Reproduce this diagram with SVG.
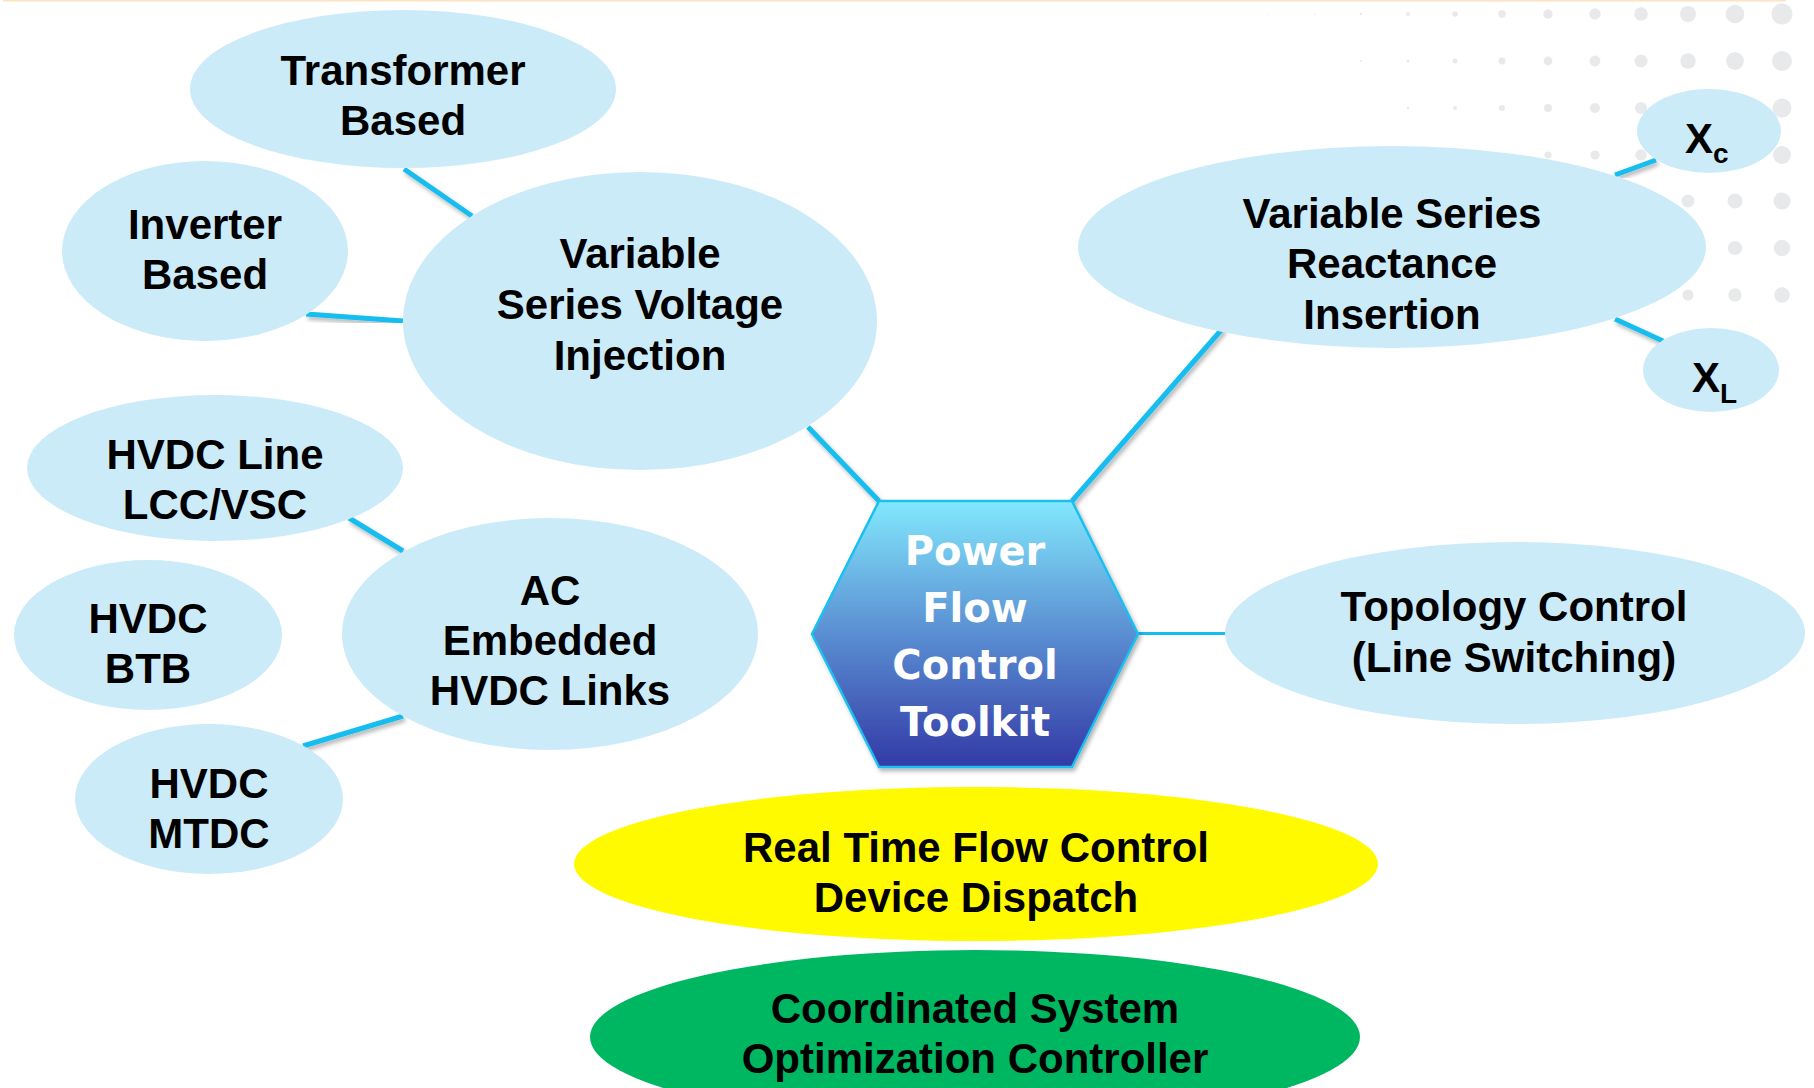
<svg xmlns="http://www.w3.org/2000/svg" width="1814" height="1088" viewBox="0 0 1814 1088">
<defs>
<linearGradient id="hexGrad" x1="0" y1="0" x2="0" y2="1">
<stop offset="0" stop-color="#82E8FD"/>
<stop offset="0.5" stop-color="#5A8ED2"/>
<stop offset="1" stop-color="#3339A6"/>
</linearGradient>
<filter id="shadow" x="-20%" y="-20%" width="140%" height="140%">
<feDropShadow dx="2" dy="3" stdDeviation="2" flood-color="#000" flood-opacity="0.3"/>
</filter>
<style>
.bubble{fill:#CCEBF9}
.lbl{font-family:"Liberation Sans",Arial,sans-serif;font-weight:bold;font-size:42px;fill:#000;text-anchor:middle}
.sub{font-size:28px}
.hexlbl{font-family:"DejaVu Sans","Liberation Sans",sans-serif;font-weight:bold;font-size:40px;fill:#fff;text-anchor:middle}
.conn line{stroke:#16BDEE;stroke-width:5;filter:url(#shadow)}
.dot{fill:#E8E9EA}
</style>
</defs>
<rect x="0" y="0" width="1814" height="1088" fill="#fff"/>
<line x1="3" y1="0.5" x2="1786" y2="0.5" stroke="#FDE3BF" stroke-width="2"/>
<g id="dots" class="dot">
<circle cx="1268" cy="14" r="0.6"/><circle cx="1315" cy="14" r="0.8"/><circle cx="1361" cy="14" r="1.2"/><circle cx="1408" cy="14" r="1.9"/><circle cx="1455" cy="14" r="2.8"/><circle cx="1502" cy="14" r="3.7"/><circle cx="1548" cy="14" r="4.7"/><circle cx="1595" cy="14" r="5.7"/><circle cx="1641" cy="14" r="6.8"/><circle cx="1688" cy="14" r="8"/><circle cx="1735" cy="14" r="9.3"/><circle cx="1782" cy="14" r="10.5"/>
<circle cx="1361" cy="61" r="0.9"/><circle cx="1408" cy="61" r="1.6"/><circle cx="1455" cy="61" r="2.5"/><circle cx="1502" cy="61" r="3.4"/><circle cx="1548" cy="61" r="4.4"/><circle cx="1595" cy="61" r="5.4"/><circle cx="1641" cy="61" r="6.5"/><circle cx="1688" cy="61" r="7.7"/><circle cx="1735" cy="61" r="8.9"/><circle cx="1782" cy="61" r="10"/>
<circle cx="1408" cy="108" r="1.2"/><circle cx="1455" cy="108" r="2.1"/><circle cx="1502" cy="108" r="3"/><circle cx="1548" cy="108" r="4"/><circle cx="1595" cy="108" r="5"/><circle cx="1641" cy="108" r="6.1"/><circle cx="1688" cy="108" r="7.3"/><circle cx="1735" cy="108" r="8.4"/><circle cx="1782" cy="108" r="9.5"/>
<circle cx="1548" cy="155" r="3.6"/><circle cx="1595" cy="155" r="4.6"/><circle cx="1641" cy="155" r="5.7"/><circle cx="1688" cy="155" r="6.8"/><circle cx="1735" cy="155" r="7.9"/><circle cx="1782" cy="155" r="9"/>
<circle cx="1688" cy="201" r="6.4"/><circle cx="1735" cy="201" r="7.5"/><circle cx="1782" cy="201" r="8.6"/>
<circle cx="1735" cy="248" r="7.1"/><circle cx="1782" cy="248" r="8.2"/>
<circle cx="1688" cy="295" r="5.6"/><circle cx="1735" cy="295" r="6.7"/><circle cx="1782" cy="295" r="7.8"/>
</g>
<g id="connectors" class="conn">
<line x1="404" y1="169" x2="472" y2="216"/>
<line x1="306" y1="314" x2="403" y2="321"/>
<line x1="808" y1="427" x2="879" y2="501"/>
<line x1="349" y1="518" x2="403" y2="551"/>
<line x1="281" y1="634" x2="342" y2="634"/>
<line x1="303" y1="746" x2="403" y2="716"/>
<line x1="757" y1="634" x2="812" y2="634"/>
<line x1="1223" y1="328" x2="1072" y2="501"/>
<line x1="1615" y1="175" x2="1656" y2="160"/>
<line x1="1615" y1="319" x2="1663" y2="341"/>
<line x1="1138" y1="634" x2="1225" y2="633"/>
<line x1="977" y1="768" x2="977" y2="789"/>
<line x1="975" y1="939" x2="975" y2="952"/>
</g>
<g id="transformer-based">
<ellipse class="bubble" cx="403" cy="89" rx="213" ry="79"/>
<text class="lbl" x="403" y="85">Transformer</text>
<text class="lbl" x="403" y="135">Based</text>
</g>
<g id="inverter-based">
<ellipse class="bubble" cx="205" cy="251" rx="143" ry="90"/>
<text class="lbl" x="205" y="239">Inverter</text>
<text class="lbl" x="205" y="289">Based</text>
</g>
<g id="vsvi">
<ellipse class="bubble" cx="640" cy="321" rx="237" ry="149"/>
<text class="lbl" x="640" y="268">Variable</text>
<text class="lbl" x="640" y="319">Series Voltage</text>
<text class="lbl" x="640" y="370">Injection</text>
</g>
<g id="hvdc-line">
<ellipse class="bubble" cx="215" cy="468" rx="188" ry="73"/>
<text class="lbl" x="215" y="469">HVDC Line</text>
<text class="lbl" x="215" y="519">LCC/VSC</text>
</g>
<g id="hvdc-btb">
<ellipse class="bubble" cx="148" cy="635" rx="134" ry="75"/>
<text class="lbl" x="148" y="633">HVDC</text>
<text class="lbl" x="148" y="683">BTB</text>
</g>
<g id="ac-embedded">
<ellipse class="bubble" cx="550" cy="634" rx="208" ry="116"/>
<text class="lbl" x="550" y="605">AC</text>
<text class="lbl" x="550" y="655">Embedded</text>
<text class="lbl" x="550" y="705">HVDC Links</text>
</g>
<g id="hvdc-mtdc">
<ellipse class="bubble" cx="209" cy="799" rx="134" ry="75"/>
<text class="lbl" x="209" y="798">HVDC</text>
<text class="lbl" x="209" y="848">MTDC</text>
</g>
<g id="vsri">
<ellipse class="bubble" cx="1392" cy="247" rx="314" ry="101"/>
<text class="lbl" x="1392" y="228">Variable Series</text>
<text class="lbl" x="1392" y="278">Reactance</text>
<text class="lbl" x="1392" y="329">Insertion</text>
</g>
<g id="xc">
<ellipse class="bubble" cx="1709" cy="131" rx="72" ry="42"/>
<text class="lbl" x="1685" y="153" style="text-anchor:start">X<tspan class="sub" dy="10">c</tspan></text>
</g>
<g id="xl">
<ellipse class="bubble" cx="1711" cy="370" rx="68" ry="42"/>
<text class="lbl" x="1692" y="392" style="text-anchor:start">X<tspan class="sub" dy="11">L</tspan></text>
</g>
<g id="topology">
<ellipse class="bubble" cx="1515" cy="633" rx="290" ry="91"/>
<text class="lbl" x="1514" y="621">Topology Control</text>
<text class="lbl" x="1514" y="672">(Line Switching)</text>
</g>
<g id="toolkit">
<polygon points="879,501 1072,501 1138,634 1072,767 879,767 812,634" fill="url(#hexGrad)" stroke="#1ABFEF" stroke-width="2.5" filter="url(#shadow)"/>
<text class="hexlbl" x="975" y="565">Power</text>
<text class="hexlbl" x="975" y="622">Flow</text>
<text class="hexlbl" x="975" y="679">Control</text>
<text class="hexlbl" x="975" y="736">Toolkit</text>
</g>
<g id="dispatch">
<ellipse cx="976" cy="864" rx="402" ry="77" fill="#FFFA00"/>
<text class="lbl" x="976" y="862">Real Time Flow Control</text>
<text class="lbl" x="976" y="912">Device Dispatch</text>
</g>
<g id="optimizer">
<ellipse cx="975" cy="1037" rx="385" ry="87" fill="#00B761"/>
<text class="lbl" x="975" y="1023">Coordinated System</text>
<text class="lbl" x="975" y="1073">Optimization Controller</text>
</g>
</svg>
